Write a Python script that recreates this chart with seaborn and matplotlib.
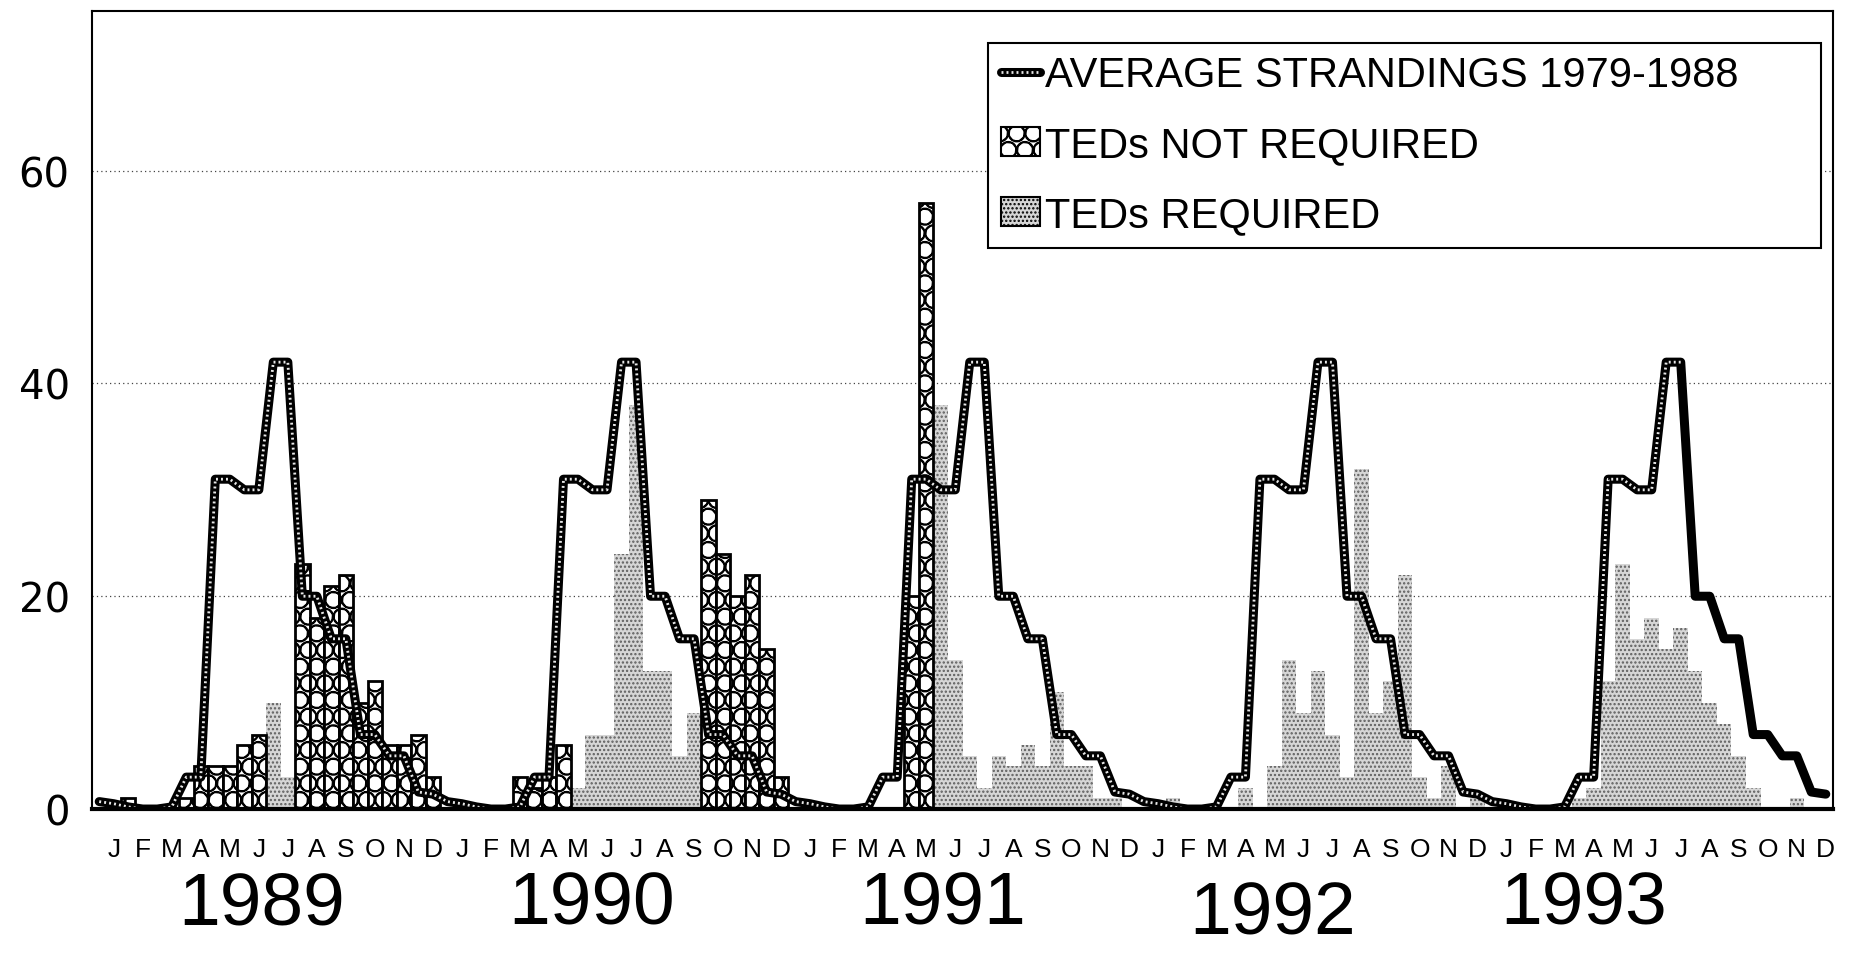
import numpy as np
import pandas as pd
import matplotlib
matplotlib.use('Agg')
import matplotlib.pyplot as plt
import matplotlib.hatch
import seaborn as sns
from matplotlib.patches import Patch
from matplotlib.lines import Line2D

# =========================================================
# DATA  (sea turtle strandings per half-month)
# =========================================================

YEARS = ['1989', '1990', '1991', '1992', '1993']
MONTHS = ['J', 'F', 'M', 'A', 'M', 'J', 'J', 'A', 'S', 'O', 'N', 'D']

# average strandings 1979-1988, one value per half-month (repeated every year)
avg_1979_1988 = [0.7, 0.5, 0.2, 0, 0, 0.2, 3, 3, 31, 31, 30, 30,
                 42, 42, 20, 20, 16, 16, 7, 7, 5, 5, 1.6, 1.4]

# TEDs NOT REQUIRED
not_req_1989 = [0, 0, 1, 0, 0, 0, 1, 4, 4, 4, 6, 7, 0, 0, 23, 18, 21, 22, 10, 12, 6, 6, 7, 3]
not_req_1990 = [0, 0, 0, 0, 0, 3, 2, 3, 6, 0, 0, 0, 0, 0, 0, 0, 0, 0, 29, 24, 20, 22, 15, 3]
not_req_1991 = [0, 0, 0, 0, 0, 0, 0, 0, 20, 57, 0, 0, 0, 0, 0, 0, 0, 0, 0, 0, 0, 0, 0, 0]
not_req_1992 = [0] * 24
not_req_1993 = [0] * 24

# TEDs REQUIRED
req_1989 = [0, 0, 0, 0, 0, 0, 0, 0, 0, 0, 0, 0, 10, 3, 0, 0, 0, 0, 0, 0, 0, 0, 0, 0]
req_1990 = [0, 0, 0, 0, 0, 0, 0, 0, 0, 2, 7, 7, 24, 38, 13, 13, 5, 9, 0, 0, 0, 0, 0, 0]
req_1991 = [0, 0, 0, 0, 0, 0, 0, 0, 0, 0, 38, 14, 5, 2, 5, 4, 6, 4, 11, 4, 4, 1, 1, 0]
req_1992 = [0, 0, 1, 0, 0, 0, 0, 2, 0, 4, 14, 9, 13, 7, 3, 32, 9, 12, 22, 3, 1, 4, 0, 1]
req_1993 = [0, 0, 0, 0, 0, 0, 1, 2, 12, 23, 16, 18, 15, 17, 13, 10, 8, 5, 2, 0, 0, 1, 0, 0]

bins = np.arange(120)
df = pd.DataFrame({
    'bin': bins,
    'not_req': np.concatenate([not_req_1989, not_req_1990, not_req_1991,
                               not_req_1992, not_req_1993]),
    'req': np.concatenate([req_1989, req_1990, req_1991, req_1992, req_1993]),
    'avg': np.tile(avg_1979_1988, 5),
})

# =========================================================
# PLOT
# =========================================================

sns.set_style('white')
plt.rcParams['font.family'] = ['Liberation Sans', 'DejaVu Sans']
plt.rcParams['text.color'] = 'black'
plt.rcParams['xtick.color'] = 'black'
plt.rcParams['ytick.color'] = 'black'
plt.rcParams['hatch.linewidth'] = 1.1
# somewhat bigger circles than the default 'O' hatch, closer to the print
matplotlib.hatch.LargeCircles.size = 0.5

fig = plt.figure(figsize=(18.54, 9.54), dpi=100)
ax = fig.add_axes([0.0496, 0.1509, 0.9391, 0.8365])

REQ_FACE = '#d6d6d6'
REQ_DOTS = '#5e5e5e'

sns.barplot(data=df[df['req'] > 0], x='bin', y='req', order=bins, width=1,
            color=REQ_FACE, edgecolor=REQ_DOTS, linewidth=0, hatch='....',
            saturation=1, errorbar=None, ax=ax)
sns.barplot(data=df[df['not_req'] > 0], x='bin', y='not_req', order=bins, width=1,
            color='white', edgecolor='black', linewidth=2, hatch='O',
            saturation=1, errorbar=None, ax=ax)

# thick textured average line (solid black on the last descent, as printed)
sns.lineplot(data=df, x='bin', y='avg', color='black', lw=6.5, ax=ax,
             solid_joinstyle='round', solid_capstyle='round')
sns.lineplot(data=df[df['bin'] <= 109], x='bin', y='avg', color='#e8e8e8', lw=2,
             linestyle=(0, (0.7, 1.1)), ax=ax)

ax.set_xlim(-0.5, 119.5)
ax.set_ylim(0, 75)
ax.set_xlabel('')
ax.set_ylabel('')

ax.set_yticks([0, 20, 40, 60])
ax.set_yticklabels(['0', '20', '40', '60'], fontsize=29, family='DejaVu Sans')
ax.set_xticks(2 * np.arange(60) + 1)
ax.set_xticklabels(MONTHS * 5, fontsize=19)
ax.tick_params(axis='both', length=0)
ax.tick_params(axis='x', pad=20)
ax.tick_params(axis='y', pad=16)

ax.yaxis.grid(True, linestyle=(0, (1, 2.5)), color='#444444', lw=0.9)
ax.set_axisbelow(True)
for side in ['top', 'right', 'left']:
    ax.spines[side].set_color('black')
    ax.spines[side].set_linewidth(1.5)
ax.spines['bottom'].set_color('black')
ax.spines['bottom'].set_linewidth(3)

# year labels under the month letters
year_x = [11.2, 33.9, 58.1, 80.9, 102.3]
year_y = [-0.119, -0.119, -0.119, -0.131, -0.119]
for yr, xx, yy in zip(YEARS, year_x, year_y):
    ax.text(xx, yy, yr, transform=ax.get_xaxis_transform(), ha='center',
            va='center', fontsize=54)

# legend
line_handle = (Line2D([0], [0], color='black', lw=6.5),
               Line2D([0], [0], color='#e8e8e8', lw=2, linestyle=(0, (0.7, 1.1))))
handles = [line_handle,
           Patch(facecolor='white', edgecolor='black', hatch='O', lw=1.5),
           Patch(facecolor=REQ_FACE, edgecolor='black', hatch='....', lw=1.5)]
labels = ['AVERAGE STRANDINGS 1979-1988', 'TEDs NOT REQUIRED', 'TEDs REQUIRED']
leg = ax.legend(handles, labels, loc='upper left',
                bbox_to_anchor=(0.5147, 0.96, 0.4785, 0), mode='expand',
                frameon=True, fancybox=False, edgecolor='black', framealpha=1,
                fontsize=30, handlelength=0.95, handleheight=0.7,
                handletextpad=0.12, labelspacing=0.72, borderpad=0.3,
                borderaxespad=0)
leg.get_frame().set_linewidth(1.5)

fig.savefig('out.png', dpi=100)
